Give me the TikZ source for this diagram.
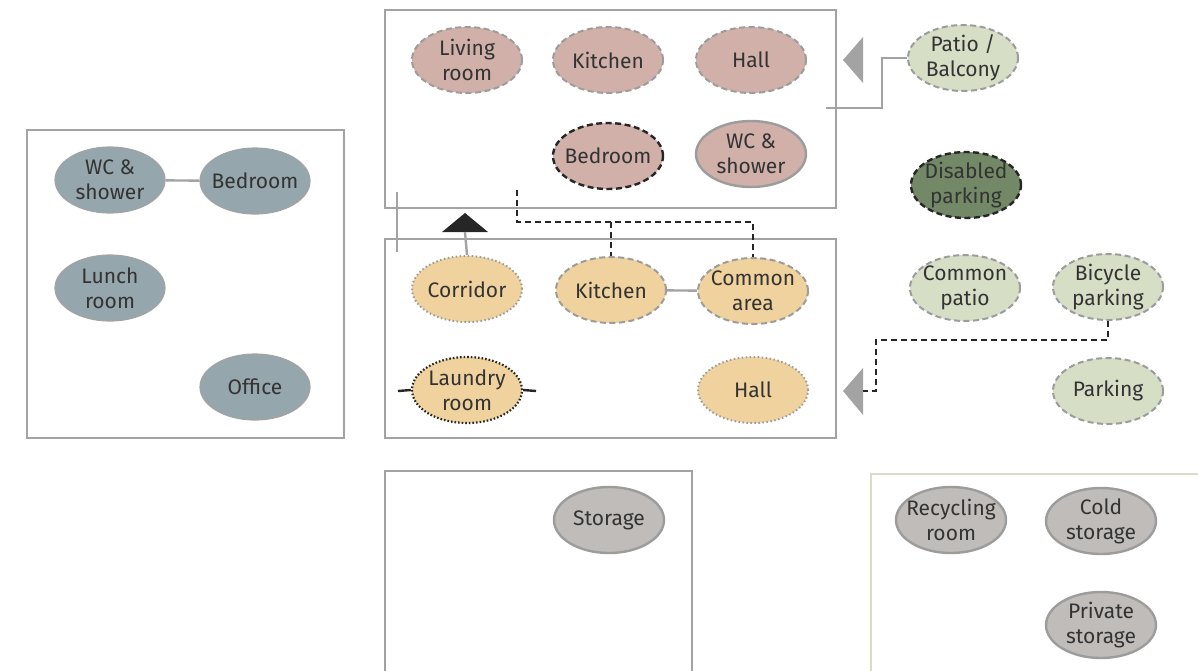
\documentclass[tikz,border=0pt]{standalone}
\usepackage{fontspec}
\setmainfont{Fira Sans}
\usetikzlibrary{shapes.geometric}
\definecolor{boxgray}{HTML}{A3A3A3}
\definecolor{txt}{HTML}{333333}
\definecolor{bluegray}{HTML}{95A6AC}
\definecolor{pink}{HTML}{D0B0A8}
\definecolor{orange}{HTML}{F0D29E}
\definecolor{lgreen}{HTML}{D7DEC6}
\definecolor{dgreen}{HTML}{738867}
\definecolor{stone}{HTML}{C0BCB9}
\definecolor{greenbox}{HTML}{D8DCC8}
\definecolor{bordergray}{HTML}{9C9C9C}
\tikzset{
  room/.style={ellipse, minimum width=110, minimum height=66, inner sep=0pt, line width=2pt},
  lab/.style={align=center, text=txt, font=\fontsize{21}{25}\selectfont, inner sep=0pt},
  gdash/.style={draw=bordergray, dash pattern=on 6pt off 3.5pt},
  kdash/.style={draw=black!85, dash pattern=on 6pt off 3.5pt},
  gdot/.style={draw=bordergray, dash pattern=on 1.5pt off 2.5pt},
  kdot/.style={draw=black!85, dash pattern=on 1.6pt off 2pt},
  zone/.style={draw=boxgray, line width=2.4pt},
  gline/.style={draw=boxgray, line width=2.4pt},
  dline/.style={draw=black!85, line width=2.5pt, dash pattern=on 6pt off 4pt},
}
\begin{document}
\begin{tikzpicture}[x=1pt,y=-1pt]
\useasboundingbox (0,0) rectangle (1198,670);
% zones
\begin{scope}
\clip (0,0) rectangle (1198,670);
\draw[zone] (27,130) rectangle (344,438);
\draw[zone] (385,10) rectangle (836,208);
\draw[zone] (385,239) rectangle (836,438);
\draw[zone] (385,471) rectangle (692,700);
\draw[zone, draw=greenbox] (871,474) rectangle (1230,700);
\end{scope}

% left zone
\node[room, fill=bluegray, draw=boxgray, line width=1.2pt, label={[lab]center:WC \&\\shower}] (lwc) at (110,180) {};
\node[room, fill=bluegray, draw=boxgray, line width=1.2pt, label={[lab]center:Bedroom}] (lbed) at (255,181) {};
\node[room, fill=bluegray, draw=boxgray, line width=1.2pt, label={[lab]center:Lunch\\room}] (lunch) at (110,288) {};
\node[room, fill=bluegray, draw=boxgray, line width=1.2pt, label={[lab]center:Office}] (office) at (255,387) {};
\draw[gline] (lwc) -- (lbed);

% top zone
\node[room, fill=pink, gdash, label={[lab]center:Living\\room}] (living) at (467,60) {};
\node[room, fill=pink, gdash, label={[lab]center:Kitchen}] (tkit) at (608,60) {};
\node[room, fill=pink, gdash, label={[lab]center:Hall}] (thall) at (751,60) {};
\node[room, fill=pink, kdash, line width=2.4pt, label={[lab]center:Bedroom}] (tbed) at (608,156) {};
\node[room, fill=pink, draw=bordergray, line width=2.4pt, label={[lab]center:WC \&\\shower}] (twc) at (751,154) {};

% middle zone
\node[room, fill=orange, gdot, label={[lab]center:Corridor}] (corr) at (467,289) {};
\node[room, fill=orange, gdash, label={[lab]center:Kitchen}] (mkit) at (611,290) {};
\node[room, fill=orange, gdash, label={[lab]center:Common\\area}] (carea) at (753,291) {};
\node[room, fill=orange, kdot, line width=2.2pt, label={[lab]center:Laundry\\room}] (laund) at (467,390) {};
\node[room, fill=orange, gdot, label={[lab]center:Hall}] (mhall) at (753,390) {};
\draw[gline] (mkit) -- (carea);

% outdoor
\node[room, fill=lgreen, gdash, label={[lab]center:Patio /\\Balcony}] (patio) at (963,58) {};
\node[room, fill=dgreen, kdash, line width=2.4pt, label={[lab]center:Disabled\\parking}] (dpark) at (966,185) {};
\node[room, fill=lgreen, gdash, label={[lab]center:Common\\patio}] (cpatio) at (965,288) {};
\node[room, fill=lgreen, gdash, label={[lab]center:Bicycle\\parking}] (bike) at (1108,287) {};
\node[room, fill=lgreen, gdash, label={[lab]center:Parking}] (park) at (1108,391) {};

% storage
\node[room, fill=stone, draw=bordergray, line width=2.4pt, label={[lab]center:Storage}] (stor) at (609,520) {};
\node[room, fill=stone, draw=bordergray, line width=2.4pt, label={[lab]center:Recycling\\room}] (recyc) at (951,520) {};
\node[room, fill=stone, draw=bordergray, line width=2.4pt, label={[lab]center:Cold\\storage}] (cold) at (1101,521) {};
\node[room, fill=stone, draw=bordergray, line width=2.4pt, label={[lab]center:Private\\storage}] (priv) at (1101,625) {};

% entrance markers
\fill[boxgray] (843,60) -- (863,37) -- (863,83) -- cycle;
\fill[boxgray] (843,391) -- (863,368) -- (863,415) -- cycle;
\fill[black!85] (442,232) -- (465,213) -- (488,232) -- cycle;

% connectors
\coordinate (pstart) at (826,108);
\coordinate (pbend) at (882,108);
\draw[gline] (pstart) -- (pbend) |- (patio.west);

\coordinate (cbase) at (465,232);
\draw[gline] (corr.north) -- (cbase);

\draw[gline] (397,192) -- (397,252);

\draw[black!85, line width=2.4pt] (398,391) -- (laund.west);
\draw[black!85, line width=2.4pt] (laund.east) -- (536,391);

\coordinate (d0) at (517,190);
\coordinate (d1) at (517,222);
\coordinate (d2) at (611,222);
\draw[dline] (d0) -- (d1) -| (carea.north);
\draw[dline] (d2) -- (mkit.north);

\coordinate (b1) at (876,340);
\coordinate (b2) at (863,391);
\draw[dline] (bike.south) |- (b1) |- (b2);
\end{tikzpicture}
\end{document}
